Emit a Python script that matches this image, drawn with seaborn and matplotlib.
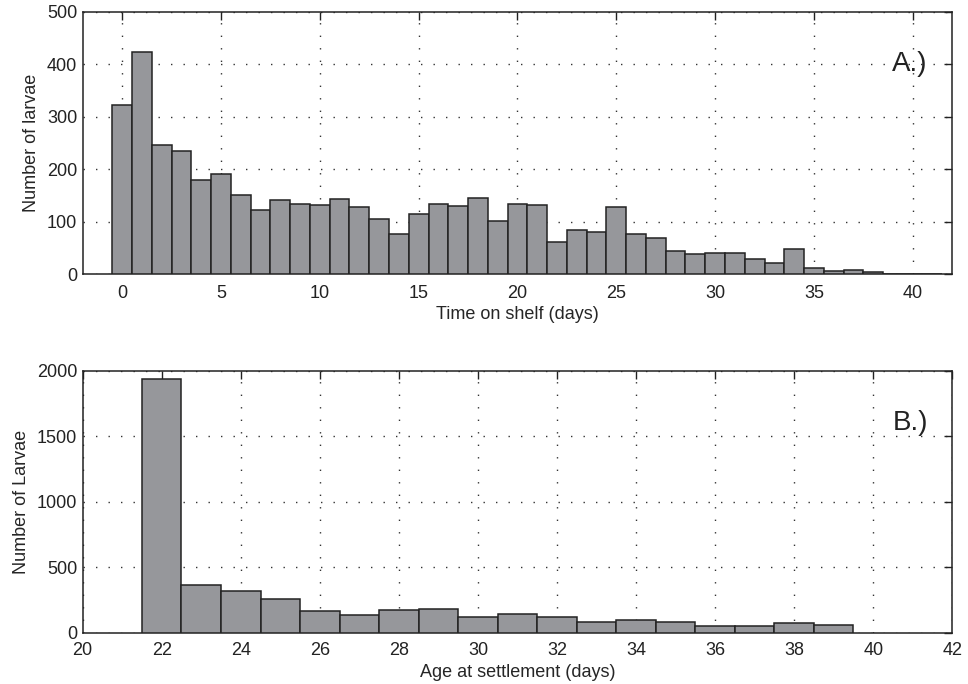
import matplotlib
matplotlib.use("Agg")
import matplotlib.pyplot as plt
import seaborn as sns
import pandas as pd

# Panel A: time on shelf (days) histogram
shelf_days = list(range(0, 42))
shelf_counts = [323, 424, 247, 235, 179, 191, 150, 123, 142, 134,
                132, 144, 128, 105, 77, 115, 133, 129, 145, 102,
                133, 131, 61, 84, 80, 127, 76, 68, 44, 39,
                40, 40, 28, 21, 47, 11, 6, 7, 3, 0,
                0, 0]

# Panel B: age at settlement (days) histogram
age_days = list(range(22, 40))
age_counts = [1939, 361, 321, 260, 163, 135, 170, 178, 120, 144,
              117, 79, 94, 79, 51, 48, 74, 56]

xticks_a = [0, 5, 10, 15, 20, 25, 30, 35, 40]
yticks_a = [0, 100, 200, 300, 400, 500]
xticks_b = [20, 22, 24, 26, 28, 30, 32, 34, 36, 38, 40, 42]
yticks_b = [0, 500, 1000, 1500, 2000]

sns.set_theme(style="white")
plt.rcParams['font.family'] = ['Liberation Sans', 'DejaVu Sans']

fig = plt.figure(figsize=(9.68, 6.84), dpi=100)
ax1 = fig.add_axes([0.0854, 0.5994, 0.8984, 0.3831])
ax2 = fig.add_axes([0.0854, 0.075, 0.8984, 0.383])

face = "#96979b"
edge = "#222222"

df_a = pd.DataFrame({"day": shelf_days, "count": shelf_counts})
df_b = pd.DataFrame({"day": age_days, "count": age_counts})

sns.histplot(data=df_a, x="day", weights="count", discrete=True, ax=ax1,
             color=face, edgecolor=edge, linewidth=1.1, alpha=1, zorder=3)
sns.histplot(data=df_b, x="day", weights="count", discrete=True, ax=ax2,
             color=face, edgecolor=edge, linewidth=1.1, alpha=1, zorder=3)

def style(ax, xlim, ylim, xt, yt, xlabel, ylabel, xpad, lpad):
    ax.set_xlim(*xlim)
    ax.set_ylim(*ylim)
    ax.set_xticks(xt)
    ax.set_yticks(yt)
    ax.set_xlabel(xlabel, fontsize=13, labelpad=lpad)
    ax.set_ylabel(ylabel, fontsize=13, labelpad=5)
    ax.set_axisbelow(True)
    ax.grid(True, linestyle=(0, (1, 8)), linewidth=1.0, color="#333333")
    ax.tick_params(direction="in", length=6, width=1, top=True, right=True,
                   labelsize=13, colors="#222222", pad=4)
    ax.tick_params(axis="x", pad=xpad)
    for s in ax.spines.values():
        s.set_visible(True)
        s.set_color("#222222")
        s.set_linewidth(1.1)

style(ax1, (-2, 42), (0, 500), xticks_a, yticks_a,
      "Time on shelf (days)", "Number of larvae", 8, 3)
style(ax2, (20, 42), (0, 2000), xticks_b, yticks_b,
      "Age at settlement (days)", "Number of Larvae", 7, 3)

ax1.text(38.95, 400, "A.)", fontsize=20, va="center", ha="left", color="#222222")
ax2.text(40.5, 1600, "B.)", fontsize=20, va="center", ha="left", color="#222222")

fig.savefig("out.png", dpi=100)
